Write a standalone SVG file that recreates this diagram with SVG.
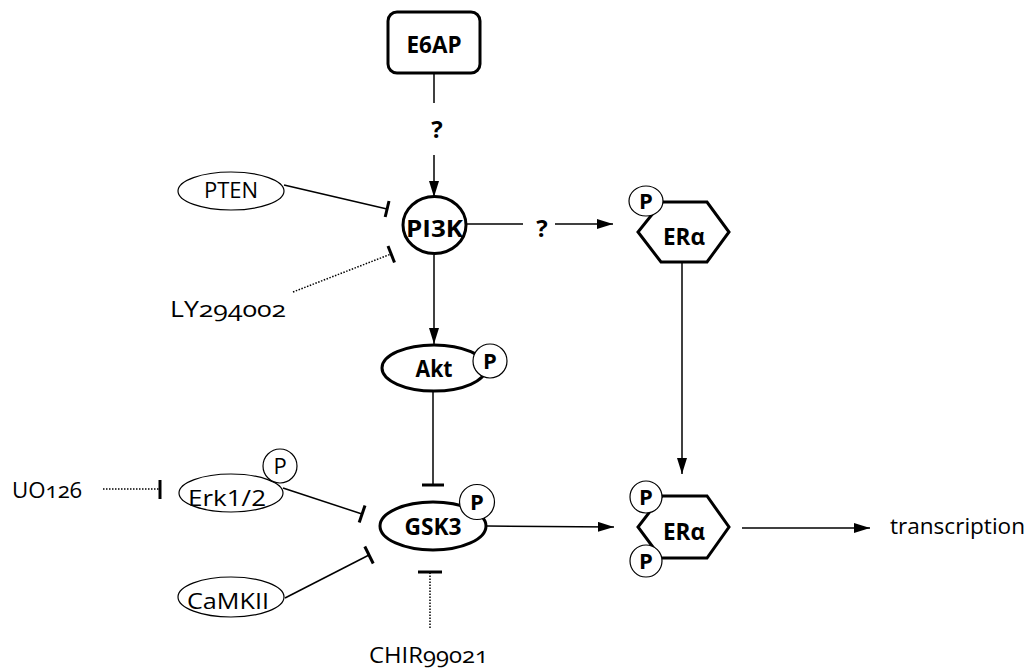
<svg xmlns="http://www.w3.org/2000/svg" width="1035" height="669" viewBox="0 0 1035 669">
<defs>
<marker id="arr" viewBox="0 0 16 10" refX="16" refY="5" markerWidth="16" markerHeight="10" markerUnits="userSpaceOnUse" orient="auto">
<path d="M0,0 L16,5 L0,10 Z" fill="#000"/>
</marker>
<style>
text{font-family:"Open Sans","Liberation Sans",sans-serif;fill:#000}
.b{font-weight:bold;font-size:24px;text-anchor:middle}
.r{font-size:22px}
.rc{font-size:22px;text-anchor:middle}
.pb{font-weight:bold;font-size:22px;text-anchor:middle}
.pr{font-size:22px;text-anchor:middle}
.onum{font-variant-numeric:oldstyle-nums}
.thick{fill:#fff;stroke:#000;stroke-width:3}
.thin{fill:#fff;stroke:#000;stroke-width:1.2}
.ln{fill:none;stroke:#000;stroke-width:1.5}
.dot{fill:none;stroke:#000;stroke-width:1.5;stroke-dasharray:1.5 1.5}
.bar{fill:none;stroke:#000;stroke-width:3}
</style>
</defs>
<rect width="1035" height="669" fill="#fff"/>

<g id="connectors">
<line class="ln" x1="434" y1="73" x2="434" y2="103"/>
<text class="b" x="437" y="138">?</text>
<line class="ln" x1="434" y1="155" x2="434" y2="197" marker-end="url(#arr)"/>
<line class="ln" x1="284" y1="185" x2="387" y2="209"/>
<line class="bar" x1="389" y1="201" x2="385.2" y2="217"/>
<line class="dot" x1="293" y1="292" x2="391" y2="254"/>
<line class="bar" x1="388" y1="246" x2="394.5" y2="262.5"/>
<line class="ln" x1="467" y1="224" x2="523" y2="224"/>
<text class="b" x="542" y="237">?</text>
<line class="ln" x1="555" y1="224" x2="613" y2="224" marker-end="url(#arr)"/>
<line class="ln" x1="434" y1="255" x2="434" y2="344" marker-end="url(#arr)"/>
<line class="ln" x1="433" y1="392" x2="433" y2="485"/>
<line class="bar" x1="422" y1="485" x2="444" y2="485"/>
<line class="ln" x1="682" y1="262" x2="682" y2="474" marker-end="url(#arr)"/>
<line class="ln" x1="283" y1="488" x2="362" y2="514"/>
<line class="bar" x1="365" y1="505.5" x2="359.2" y2="522.5"/>
<line class="ln" x1="285" y1="598" x2="369" y2="555"/>
<line class="bar" x1="364.8" y1="546.5" x2="373.2" y2="563.5"/>
<line class="dot" x1="103" y1="489" x2="160" y2="489"/>
<line class="bar" x1="160" y1="480" x2="160" y2="499"/>
<line class="dot" x1="430" y1="628" x2="430" y2="573"/>
<line class="bar" x1="418" y1="572" x2="442" y2="572"/>
<line class="ln" x1="487" y1="526" x2="614" y2="527" marker-end="url(#arr)"/>
<line class="ln" x1="742" y1="528" x2="870" y2="528" marker-end="url(#arr)"/>
</g>

<g id="E6AP">
<rect class="thick" x="388" y="12" width="92" height="61" rx="9" stroke-width="2.5"/>
<text class="b" x="434" y="53" textLength="55" lengthAdjust="spacingAndGlyphs">E6AP</text>
</g>

<g id="PTEN">
<ellipse class="thin" cx="231" cy="191" rx="53" ry="19"/>
<text class="rc" x="231" y="198">PTEN</text>
</g>

<g id="PI3K">
<ellipse class="thick" cx="434.5" cy="225" rx="31.5" ry="28.5"/>
<text class="b" x="434.5" y="237" textLength="57" lengthAdjust="spacingAndGlyphs">PI3K</text>
</g>

<g id="LY294002">
<text class="r onum" x="170" y="317" font-size="24" textLength="116" lengthAdjust="spacingAndGlyphs">LY294002</text>
</g>

<g id="ERa-top">
<polygon class="thick" points="662,202 707,202 729,232 707,262 661,262 638,232"/>
<text class="b" x="684" y="245" textLength="42" lengthAdjust="spacingAndGlyphs">ERα</text>
<ellipse class="thin" cx="646" cy="201" rx="17" ry="15"/>
<text class="pb" x="646" y="209">P</text>
</g>

<g id="Akt">
<ellipse class="thick" cx="434" cy="368" rx="52" ry="23"/>
<text class="b" x="434" y="377" textLength="37" lengthAdjust="spacingAndGlyphs">Akt</text>
<circle class="thin" cx="490" cy="361" r="17"/>
<text class="pb" x="490" y="369">P</text>
</g>

<g id="Erk12">
<ellipse class="thin" cx="231" cy="493" rx="52" ry="19"/>
<text class="rc" x="227" y="506" font-size="25" textLength="78" lengthAdjust="spacingAndGlyphs">Erk1/2</text>
<circle class="thin" cx="280" cy="466" r="17"/>
<text class="pr" x="280" y="474">P</text>
</g>

<g id="UO126">
<text class="r onum" x="12" y="498" font-size="23" textLength="70" lengthAdjust="spacingAndGlyphs">UO126</text>
</g>

<g id="CaMKII">
<ellipse class="thin" cx="231" cy="597" rx="53" ry="20"/>
<text class="rc" x="228" y="609" font-size="25" textLength="82" lengthAdjust="spacingAndGlyphs">CaMKII</text>
</g>

<g id="GSK3">
<ellipse class="thick" cx="433" cy="526" rx="53" ry="24"/>
<text class="b" x="433" y="535" textLength="57" lengthAdjust="spacingAndGlyphs">GSK3</text>
<circle class="thin" cx="477" cy="502" r="17.5"/>
<text class="pb" x="477" y="510">P</text>
</g>

<g id="CHIR99021">
<text class="r onum" x="369" y="663" font-size="24" textLength="119" lengthAdjust="spacingAndGlyphs">CHIR99021</text>
</g>

<g id="ERa-bottom">
<polygon class="thick" points="662,496 707,496 729,527 707,558 661,558 638,527"/>
<text class="b" x="684" y="540" textLength="42" lengthAdjust="spacingAndGlyphs">ERα</text>
<circle class="thin" cx="646" cy="497" r="16"/>
<text class="pb" x="646" y="505">P</text>
<circle class="thin" cx="646" cy="561" r="16"/>
<text class="pb" x="646" y="569">P</text>
</g>

<g id="transcription">
<text class="r" x="890" y="534" font-size="23" textLength="135" lengthAdjust="spacingAndGlyphs">transcription</text>
</g>
</svg>
